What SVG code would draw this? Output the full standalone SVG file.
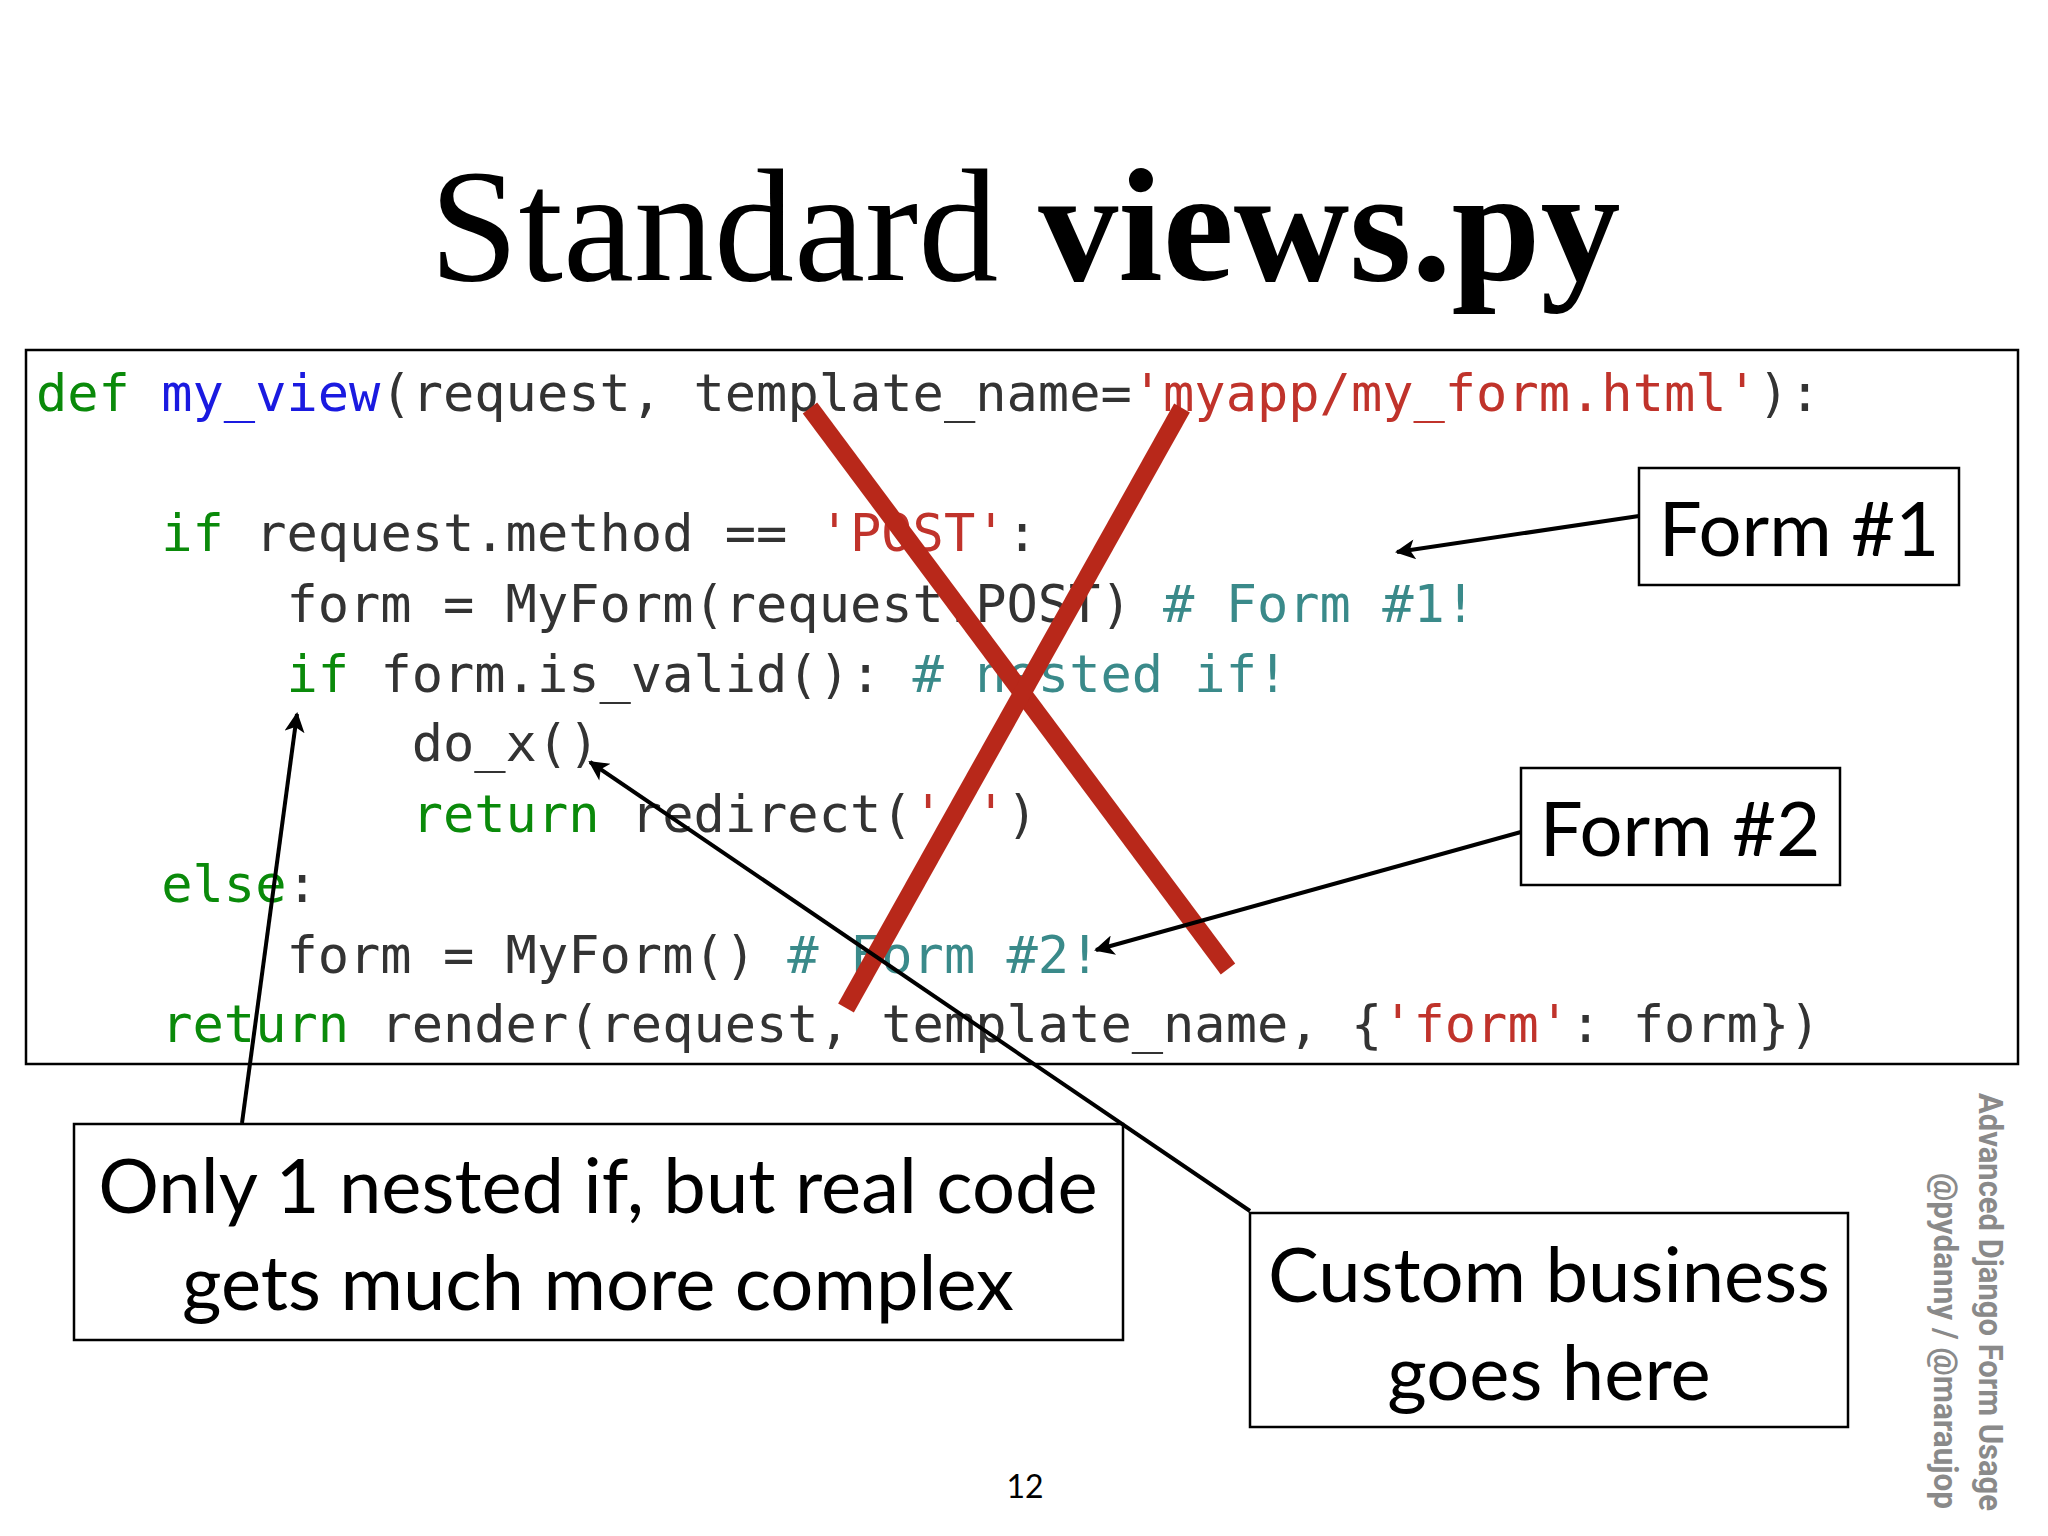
<svg xmlns="http://www.w3.org/2000/svg" width="2048" height="1536" viewBox="0 0 2048 1536">
<defs>
<marker id="ah" viewBox="0 0 10 10" refX="9" refY="5" markerWidth="24" markerHeight="20" orient="auto-start-reverse" markerUnits="userSpaceOnUse"><path d="M0,0 L10,5 L0,10 L2.5,5 z" fill="#000"/></marker>
<style>
.code{font-family:"DejaVu Sans Mono","Liberation Mono",monospace;font-size:52px;fill:#333;white-space:pre}
.k{fill:#0a8a0a}.f{fill:#1a1ae0}.s{fill:#c0332b}.c{fill:#3a8a8a}
.box{fill:#fff;stroke:#000;stroke-width:2.5}
.lbl{font-family:Lato,"Open Sans",sans-serif;font-size:76px;fill:#000}
.conn{stroke:#000;stroke-width:4;fill:none;marker-end:url(#ah)}
.x{stroke:#b8281a;stroke-width:18;stroke-linecap:butt}
</style>
</defs>
<rect width="2048" height="1536" fill="#fff"/>
<text x="1025" y="280" text-anchor="middle" font-family="Liberation Serif,serif" font-size="160" fill="#000">Standard <tspan font-weight="bold">views.py</tspan></text>
<g id="code">
<rect x="26" y="350" width="1992" height="714" class="box"/>
<text class="code" x="36" y="411" xml:space="preserve"><tspan class="k">def</tspan> <tspan class="f">my_view</tspan>(request, template_name=<tspan class="s">'myapp/my_form.html'</tspan>):</text>
<text class="code" x="36" y="551" xml:space="preserve">    <tspan class="k">if</tspan> request.method == <tspan class="s">'POST'</tspan>:</text>
<text class="code" x="36" y="622" xml:space="preserve">        form = MyForm(request.POST) <tspan class="c"># Form #1!</tspan></text>
<text class="code" x="36" y="692" xml:space="preserve">        <tspan class="k">if</tspan> form.is_valid(): <tspan class="c"># nested if!</tspan></text>
<text class="code" x="36" y="761" xml:space="preserve">            do_x()</text>
<text class="code" x="36" y="832" xml:space="preserve">            <tspan class="k">return</tspan> redirect(<tspan class="s">'/'</tspan>)</text>
<text class="code" x="36" y="902" xml:space="preserve">    <tspan class="k">else</tspan>:</text>
<text class="code" x="36" y="973" xml:space="preserve">        form = MyForm() <tspan class="c"># Form #2!</tspan></text>
<text class="code" x="36" y="1042" xml:space="preserve">    <tspan class="k">return</tspan> render(request, template_name, {<tspan class="s">'form'</tspan>: form})</text>
</g>
<g id="cross">
<line class="x" x1="810" y1="408" x2="1228" y2="969"/>
<line class="x" x1="1182" y1="408" x2="846" y2="1008"/>
</g>
<g id="form1"><rect class="box" x="1639" y="468" width="320" height="117"/><text class="lbl" x="1799" y="556" text-anchor="middle">Form #1</text></g>
<g id="form2"><rect class="box" x="1521" y="768" width="319" height="117"/><text class="lbl" x="1680" y="856" text-anchor="middle">Form #2</text></g>
<g id="nested"><rect class="box" x="74" y="1124" width="1049" height="216"/>
<text class="lbl" x="598" y="1213" text-anchor="middle">Only 1 nested if, but real code</text>
<text class="lbl" x="598" y="1310" text-anchor="middle">gets much more complex</text></g>
<g id="business"><rect class="box" x="1250" y="1213" width="598" height="214"/>
<text class="lbl" x="1549" y="1302" text-anchor="middle">Custom business</text>
<text class="lbl" x="1549" y="1400" text-anchor="middle">goes here</text></g>
<g id="connectors">
<line class="conn" x1="1639" y1="516" x2="1397" y2="552"/>
<line class="conn" x1="1521" y1="832" x2="1096" y2="950"/>
<line class="conn" x1="242" y1="1123" x2="297" y2="714"/>
<line class="conn" x1="1250" y1="1211" x2="590" y2="762"/>
</g>
<text x="1025" y="1498" text-anchor="middle" font-family="Lato,sans-serif" font-size="32" fill="#000">12</text>
<g font-family="Roboto,sans-serif" font-weight="bold" font-size="33" fill="#8a8a8a">
<text transform="translate(1979,1093) rotate(90)" textLength="418" lengthAdjust="spacingAndGlyphs">Advanced Django Form Usage</text>
<text transform="translate(1934,1173) rotate(90)" textLength="336" lengthAdjust="spacingAndGlyphs">@pydanny / @maraujop</text>
</g>
</svg>
